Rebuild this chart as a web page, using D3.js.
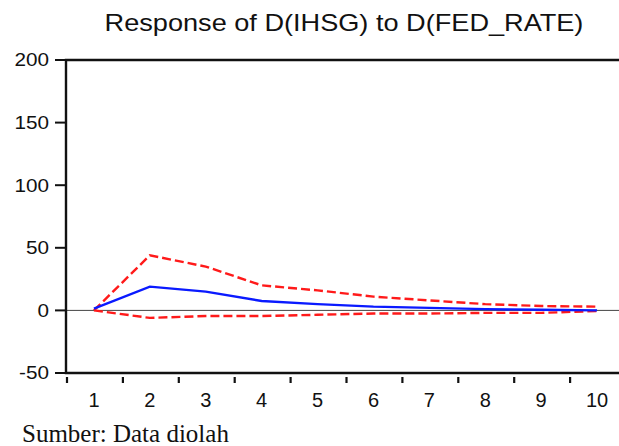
<!DOCTYPE html>
<html lang="en">
<head>
<meta charset="utf-8">
<title>Response of D(IHSG) to D(FED_RATE)</title>
<style>
  body { margin: 0; background: white; }
  svg { display: block; }
  .y-label { font: 18px "Liberation Sans", Arial, sans-serif; fill: #111; }
  .x-label { font: 20px "Liberation Sans", Arial, sans-serif; fill: #111; }
  .title { font: 23px "Liberation Sans", Arial, sans-serif; fill: #111; }
  .note { font: 25px "Liberation Serif", "Times New Roman", serif; fill: #111; }
</style>
</head>
<body>
<svg width="619" height="446"></svg>
<script src="https://d3js.org/d3.v7.min.js"></script>
<script>
// periods and impulse responses
var periods = [1, 2, 3, 4, 5, 6, 7, 8, 9, 10];
var response = [1.5, 19, 15, 7.5, 5, 3, 2, 1, 0.5, 0];
var upperBand = [0, 44, 35, 20, 16, 11, 8, 5, 3.5, 3];
var lowerBand = [0, -6, -4.5, -4.5, -3.5, -2.5, -2.5, -2, -2, -0.5];
var yTicks = [-50, 0, 50, 100, 150, 200];

var svg = d3.select("svg");
var plotLeft = 66, plotTop = 60, plotBottom = 373, step = 55.9;

var y = d3.scaleLinear().domain([-50, 200]).range([plotBottom, plotTop]);
var x = d3.scaleLinear().domain([0.5, 10.5]).range([plotLeft, plotLeft + 10 * step]);

// the source picture is stretched sideways, so the text is too
svg.append("text").attr("class", "title")
    .attr("transform", "translate(344,31) scale(1.18,1)")
    .attr("text-anchor", "middle")
    .text("Response of D(IHSG) to D(FED_RATE)");

// zero line
svg.append("line")
    .attr("x1", plotLeft).attr("x2", 619)
    .attr("y1", y(0)).attr("y2", y(0))
    .attr("stroke", "#444").attr("stroke-width", 1);

// frame: top, left, bottom
svg.append("path")
    .attr("d", "M619," + plotTop + "H" + plotLeft + "V" + plotBottom + "H619")
    .attr("fill", "none").attr("stroke", "#111").attr("stroke-width", 2.4);

var yAxis = svg.append("g");
yTicks.forEach(function(t) {
    yAxis.append("line")
        .attr("x1", plotLeft - 11).attr("x2", plotLeft)
        .attr("y1", y(t)).attr("y2", y(t))
        .attr("stroke", "#111").attr("stroke-width", 2);
    yAxis.append("text").attr("class", "y-label")
        .attr("transform", "translate(" + (plotLeft - 17) + "," + y(t) + ") scale(1.15,1)")
        .attr("dy", "0.36em")
        .attr("text-anchor", "end")
        .text(t);
});

// x ticks sit between periods, just below the axis
var xAxis = svg.append("g");
periods.forEach(function(p) {
    xAxis.append("line")
        .attr("x1", x(p - 0.5) + 1).attr("x2", x(p - 0.5) + 1)
        .attr("y1", plotBottom + 4).attr("y2", plotBottom + 10)
        .attr("stroke", "#111").attr("stroke-width", 2.2);
    xAxis.append("text").attr("class", "x-label")
        .attr("x", x(p)).attr("y", 407)
        .attr("text-anchor", "middle")
        .text(p);
});

var line = d3.line()
    .x(function(d, i) { return x(periods[i]); })
    .y(function(d) { return y(d); });

[upperBand, lowerBand].forEach(function(band) {
    svg.append("path")
        .attr("d", line(band))
        .attr("fill", "none").attr("stroke", "#ff1a1a")
        .attr("stroke-width", 2.4).attr("stroke-dasharray", "9,4");
});

svg.append("path")
    .attr("d", line(response))
    .attr("fill", "none").attr("stroke", "#0a1aff")
    .attr("stroke-width", 2.4);

svg.append("text").attr("class", "note")
    .attr("x", 22).attr("y", 442)
    .text("Sumber: Data diolah");
</script>
</body>
</html>
